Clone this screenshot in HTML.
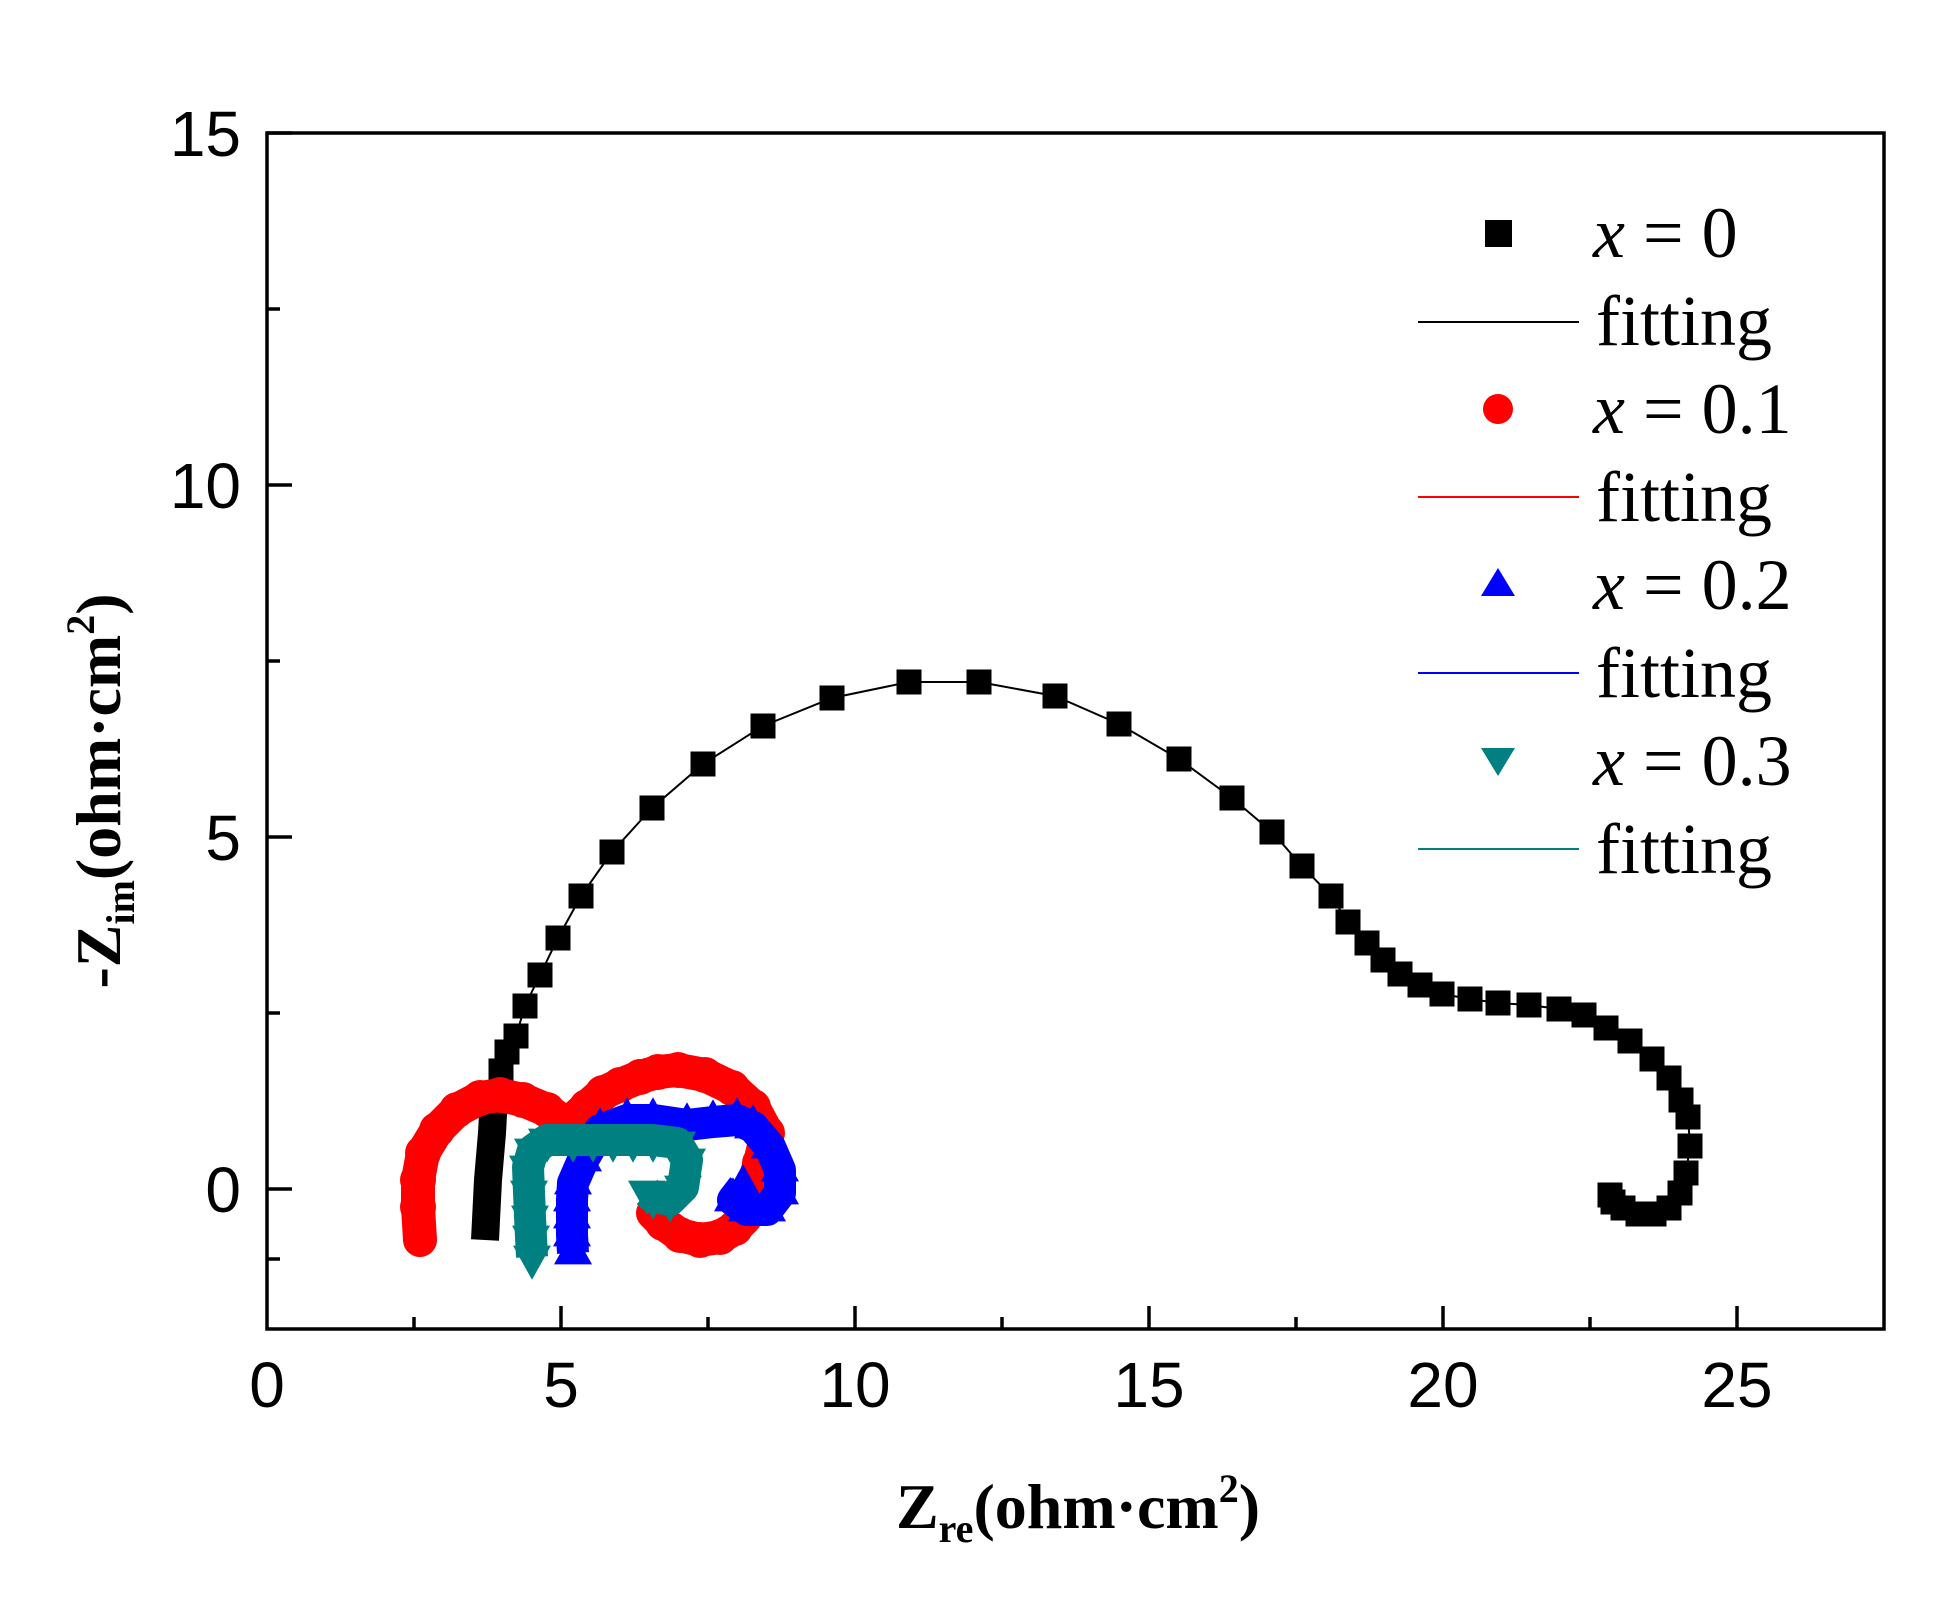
<!DOCTYPE html>
<html><head><meta charset="utf-8"><style>html,body{margin:0;padding:0;background:#fff}svg{display:block}</style></head><body>
<svg width="1952" height="1616" viewBox="0 0 1952 1616" xmlns="http://www.w3.org/2000/svg">
<defs>
<marker id="sq" viewBox="0 0 10 10" refX="5" refY="5" markerWidth="25" markerHeight="25" markerUnits="userSpaceOnUse"><rect width="10" height="10" fill="#000"/></marker>
<marker id="ci" viewBox="0 0 10 10" refX="5" refY="5" markerWidth="36" markerHeight="36" markerUnits="userSpaceOnUse"><circle cx="5" cy="5" r="5" fill="#f00"/></marker>
<marker id="tu" viewBox="0 0 10 10" refX="5" refY="6" markerWidth="38" markerHeight="38" markerUnits="userSpaceOnUse"><polygon points="5,0 10,9 0,9" fill="#00f"/></marker>
<marker id="td" viewBox="0 0 10 10" refX="5" refY="4" markerWidth="38" markerHeight="38" markerUnits="userSpaceOnUse"><polygon points="0,1 10,1 5,10" fill="#008080"/></marker>
</defs>
<g stroke="#000" stroke-width="3.5" fill="none">
<rect x="267" y="133" width="1617" height="1196"/>
<path d="M414 1329v-12M561 1329v-23M708 1329v-12M855 1329v-23M1002 1329v-12M1149 1329v-23M1296 1329v-12M1443 1329v-23M1590 1329v-12M1737 1329v-23
M267 1189h25M267 1013h13M267 837h25M267 661h13M267 485h25M267 309h13M267 133h25
M267 1259h13"/>
</g>
<g font-family="Liberation Sans, sans-serif" font-size="64" fill="#000">
<g text-anchor="middle"><text x="267" y="1407">0</text><text x="561" y="1407">5</text><text x="855" y="1407">10</text><text x="1149" y="1407">15</text><text x="1443" y="1407">20</text><text x="1737" y="1407">25</text></g>
<g text-anchor="end"><text x="241" y="1212">0</text><text x="241" y="860">5</text><text x="241" y="508">10</text><text x="241" y="156">15</text></g>
</g>
<polyline fill="none" stroke="#000" stroke-width="28" stroke-linejoin="round" points="485,1240 488,1180 492,1133 494,1096"/>
<polyline fill="none" stroke="#000" stroke-width="2" marker-mid="url(#sq)" marker-end="url(#sq)" marker-start="url(#sq)" points="494,1096 501,1071 507,1052 516,1036 525,1006 540,975 558,938 581,896 612,852 652,808 703,764 763,726 832,698 909,682 979,682 1055,696 1119,724 1179,759 1232,798 1272,832 1302,866 1331,896 1348,922 1367,943 1383,960 1400,974 1420,985 1442,994 1470,999 1498,1003 1529,1005 1559,1009 1584,1015 1606,1028 1630,1041 1652,1059 1669,1078 1681,1100 1688,1117 1690,1146 1686,1173 1680,1193 1669,1208 1654,1214 1638,1214 1623,1208 1613,1202 1610,1195"/>
<polyline fill="none" stroke="#f00" stroke-width="34" stroke-linecap="round" stroke-linejoin="round" marker-mid="url(#ci)" points="420,1240 418,1207 418,1180 423,1153 437,1130 457,1110 480,1098 500,1095 523,1100 547,1110 567,1125 587,1107 603,1093 620,1085 640,1077 658,1072 678,1070 705,1075 732,1088 753,1107 767,1133 760,1163 755,1180"/>
<polyline fill="none" stroke="#f00" stroke-width="34" stroke-linecap="round" stroke-linejoin="round" marker-mid="url(#ci)" points="745,1218 735,1228 720,1237 700,1240 680,1235 663,1223 653,1213"/>
<polyline fill="none" stroke="#00f" stroke-width="32" stroke-linejoin="round" marker-start="url(#tu)" marker-mid="url(#tu)" marker-end="url(#tu)" points="573,1253 572,1235 572,1217 572,1200 573,1183 583,1160 600,1130 627,1120 653,1120 687,1125 713,1122 737,1120 753,1127 770,1147 780,1170 780,1193 767,1210 747,1210 733,1200 743,1187"/>
<polyline fill="none" stroke="#008080" stroke-width="32" stroke-linejoin="round" marker-start="url(#td)" marker-mid="url(#td)" marker-end="url(#td)" points="532,1257 531,1237 530,1217 529,1192 528,1167 533,1150 547,1140 573,1140 593,1140 613,1140 633,1140 653,1140 677,1143 687,1160 683,1187 670,1200 653,1197 647,1192"/>
<rect x="1485" y="220" width="27" height="27" fill="#000"/>
<line x1="1418" y1="322" x2="1579" y2="322" stroke="#000" stroke-width="2"/>
<circle cx="1498" cy="409" r="15" fill="#f00"/>
<line x1="1418" y1="497" x2="1579" y2="497" stroke="#f00" stroke-width="2"/>
<polygon points="1498,568 1515,596 1481,596" fill="#00f"/>
<line x1="1418" y1="673" x2="1579" y2="673" stroke="#00f" stroke-width="2"/>
<polygon points="1481,748 1515,748 1498,776" fill="#008080"/>
<line x1="1418" y1="849" x2="1579" y2="849" stroke="#008080" stroke-width="2"/>
<g font-family="Liberation Serif, serif" font-size="72" fill="#000">
<text x="1593" y="257"><tspan font-style="italic">x</tspan> = 0</text>
<text x="1596" y="345">fitting</text>
<text x="1593" y="433"><tspan font-style="italic">x</tspan> = 0.1</text>
<text x="1596" y="521">fitting</text>
<text x="1593" y="609"><tspan font-style="italic">x</tspan> = 0.2</text>
<text x="1596" y="697">fitting</text>
<text x="1593" y="785"><tspan font-style="italic">x</tspan> = 0.3</text>
<text x="1596" y="873">fitting</text>
</g>
<g font-family="Liberation Serif, serif" font-weight="bold" font-size="64" fill="#000">
<text x="1078" y="1528" text-anchor="middle">Z<tspan font-size="40" dy="14">re</tspan><tspan dy="-14">(ohm·cm</tspan><tspan font-size="40" dy="-26">2</tspan><tspan dy="26">)</tspan></text>
<text transform="translate(120,791) rotate(-90)" text-anchor="middle">-Z<tspan font-size="40" dy="14">im</tspan><tspan dy="-14">(ohm·cm</tspan><tspan font-size="40" dy="-26">2</tspan><tspan dy="26">)</tspan></text>
</g>
</svg>
</body></html>
